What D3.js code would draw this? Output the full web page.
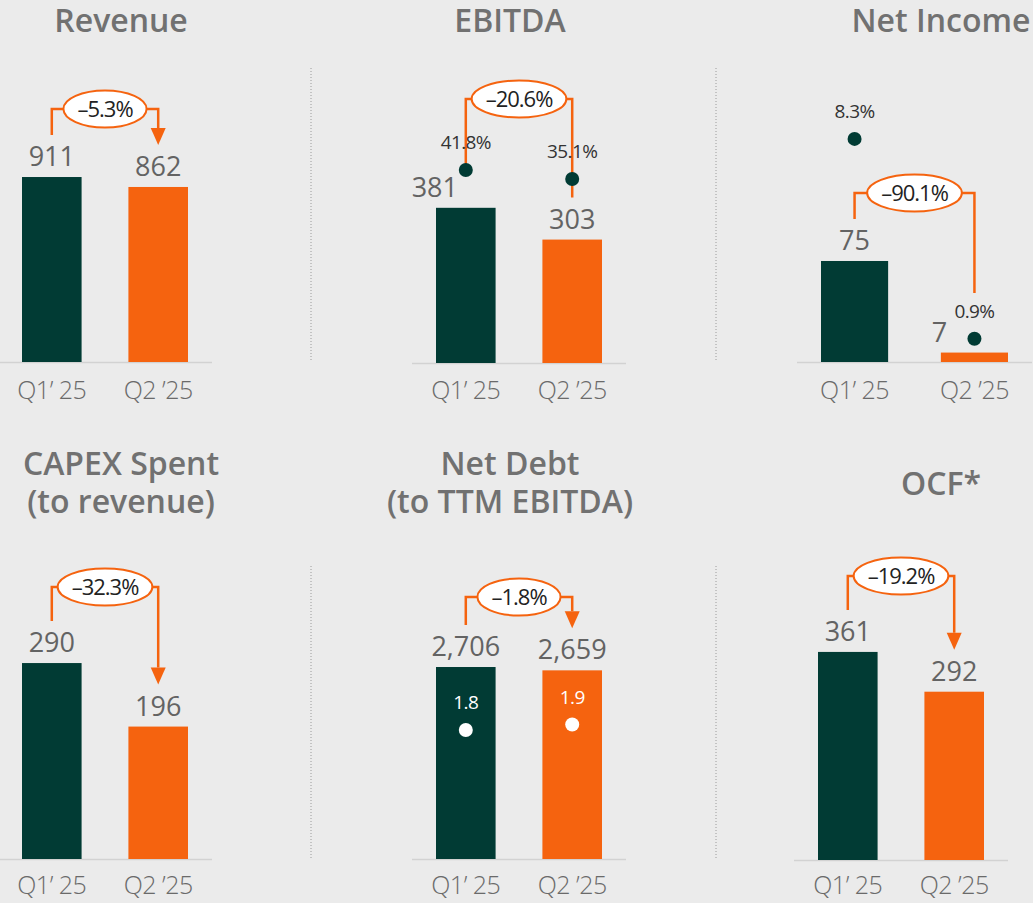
<!DOCTYPE html>
<html>
<head>
<meta charset="utf-8">
<script src="https://cdn.jsdelivr.net/npm/d3@7"></script>
<style>
  body { margin: 0; background: #ebebeb; }
  svg { display: block; font-family: "Open Sans", sans-serif; }
</style>
</head>
<body>
<div id="chart"></div>
<script>
/*global d3*/
// data
var periods = ["Q1’ 25", "Q2 ’25"];
var titles = [
  ["Revenue"],
  ["EBITDA"],
  ["Net Income"],
  ["CAPEX Spent", "(to revenue)"],
  ["Net Debt", "(to TTM EBITDA)"],
  ["OCF*"],
];
var values = [
  [911, 862],
  [381, 303],
  [75, 7],
  [290, 196],
  [2706, 2659],
  [361, 292],
];
var changes = ["–5.3%", "–20.6%", "–90.1%", "–32.3%", "–1.8%", "–19.2%"];
var ratios = [null, [41.8, 35.1], [8.3, 0.9], null, [1.8, 1.9], null];
var ratioSuffix = [null, "%", "%", null, "", null];

var green = "#013b34",
  orange = "#f5630f";

// layout per panel (positions only)
var panels = [
  { x: [22, 188], base: 362, top: 985, titleX: 121, titleY: [32], axisY: 399, bracketY: 109, arrow: true, labelDx: [0, 0] },
  { x: [436, 602], base: 363, top: 491, titleX: 510, titleY: [32], axisY: 399, bracketY: 99, arrow: false, labelDx: [-31, 0],
    dot: { domain: [0, 50], range: [226, 159], fill: green, text: "#333" } },
  { x: [821, 1008], base: 362, top: 148.5, titleX: 941, titleY: [32], axisY: 399, bracketY: 193, arrow: false, labelDx: [0, -35], rightEnd: 293,
    dot: { domain: [0, 10], range: [363, 93], fill: green, text: "#333" } },
  { x: [22, 188], base: 859, top: 296, titleX: 121, titleY: [475, 513], axisY: 894, bracketY: 587, arrow: true, labelDx: [0, 0] },
  { x: [436, 602], base: 859, top: 2819, titleX: 510, titleY: [475, 513], axisY: 894, bracketY: 597, arrow: true, labelDx: [0, 0],
    dot: { domain: [0, 2], range: [829, 719], fill: "#fff", text: "#fff" } },
  { x: [818, 984], base: 860, top: 347, titleX: 941, titleY: [495], axisY: 894, bracketY: 576, arrow: true, labelDx: [0, 0] },
];

var width = 1033,
  height = 903;

var svg = d3
  .select("#chart")
  .append("svg")
  .attr("width", width)
  .attr("height", height);

svg.append("rect").attr("width", width).attr("height", height).attr("fill", "#ebebeb");

// dotted separators
[311, 716].forEach((sx) => {
  [[68, 362], [566, 859]].forEach(([y0, y1]) => {
    svg
      .append("line")
      .attr("x1", sx)
      .attr("x2", sx)
      .attr("y1", y0)
      .attr("y2", y1)
      .attr("stroke", "#9a9a9a")
      .attr("stroke-width", 1)
      .attr("stroke-dasharray", "1,2");
  });
});

var fmt = d3.format(",");

panels.forEach((p, i) => {
  var g = svg.append("g");
  var x = d3.scaleBand().domain(periods).range(p.x).paddingInner(0.44).paddingOuter(0);
  var y = d3.scaleLinear().domain([0, p.top]).range([p.base, p.base - 200]);
  var cx = (d) => x(d) + x.bandwidth() / 2;

  // title
  var t = g
    .append("text")
    .attr("x", p.titleX)
    .attr("text-anchor", "middle")
    .attr("fill", "#717171")
    .style("font-size", "32px")
    .style("font-weight", 600);
  titles[i].forEach((line, k) => {
    t.append("tspan").attr("x", p.titleX).attr("y", p.titleY[k]).text(line);
  });

  // baseline
  g.append("line")
    .attr("x1", p.x[0] - 24)
    .attr("x2", p.x[1] + 24)
    .attr("y1", p.base + 0.5)
    .attr("y2", p.base + 0.5)
    .attr("stroke", "#d2d2d2")
    .attr("stroke-width", 1.5);

  // bars
  g.selectAll("rect.bar")
    .data(values[i])
    .enter()
    .append("rect")
    .attr("class", "bar")
    .attr("x", (d, j) => x(periods[j]))
    .attr("width", x.bandwidth())
    .attr("y", (d) => y(d))
    .attr("height", (d) => p.base - y(d))
    .attr("fill", (d, j) => (j === 0 ? green : orange));

  // value labels
  g.selectAll("text.val")
    .data(values[i])
    .enter()
    .append("text")
    .attr("class", "val")
    .attr("x", (d, j) => cx(periods[j]) + p.labelDx[j])
    .attr("y", (d) => y(d) - 11)
    .attr("text-anchor", "middle")
    .attr("fill", "#636363")
    .style("font-size", "27px")
    .style("font-weight", 500)
    .text((d) => fmt(d));

  // axis labels
  g.selectAll("text.axis")
    .data(periods)
    .enter()
    .append("text")
    .attr("class", "axis")
    .attr("x", (d) => cx(d))
    .attr("y", p.axisY)
    .attr("text-anchor", "middle")
    .attr("fill", "#6a6a6a")
    .style("font-size", "25px")
    .style("font-weight", 300)
    .style("letter-spacing", "-0.5px")
    .text((d) => d);

  // change bracket
  var x1 = cx(periods[0]),
    x2 = cx(periods[1]);
  var leftEnd = y(values[i][0]) - 42;
  var rightEnd = p.rightEnd || y(values[i][1]) - 42;
  var head = p.arrow ? 17 : 0;
  var b = g.append("g");
  b.append("path")
    .attr("d", d3.line()([
      [x1, leftEnd],
      [x1, p.bracketY],
      [x2, p.bracketY],
      [x2, rightEnd - head],
    ]))
    .attr("fill", "none")
    .attr("stroke", orange)
    .attr("stroke-width", 2.5);
  if (p.arrow) {
    b.append("path")
      .attr("d", d3.line()([
        [x2 - 7.5, rightEnd - head],
        [x2 + 7.5, rightEnd - head],
        [x2, rightEnd],
      ]) + "Z")
      .attr("fill", orange);
  }
  var mid = (x1 + x2) / 2;
  var lbl = b
    .append("text")
    .attr("x", mid)
    .attr("y", p.bracketY)
    .attr("dy", "0.36em")
    .attr("text-anchor", "middle")
    .attr("fill", "#222")
    .style("font-size", "22px")
    .style("letter-spacing", "-1px")
    .text(changes[i]);
  var w = lbl.node().getComputedTextLength();
  b.insert("ellipse", "text")
    .attr("cx", mid)
    .attr("cy", p.bracketY)
    .attr("rx", w / 2 + 14)
    .attr("ry", 18.5)
    .attr("fill", "#fff")
    .attr("stroke", orange)
    .attr("stroke-width", 2);

  // ratio dots
  if (p.dot && ratios[i]) {
    var yr = d3.scaleLinear().domain(p.dot.domain).range(p.dot.range);
    g.selectAll("circle.dot")
      .data(ratios[i])
      .enter()
      .append("circle")
      .attr("class", "dot")
      .attr("cx", (d, j) => cx(periods[j]))
      .attr("cy", (d) => yr(d))
      .attr("r", 7)
      .attr("fill", p.dot.fill);
    g.selectAll("text.dotlbl")
      .data(ratios[i])
      .enter()
      .append("text")
      .attr("class", "dotlbl")
      .attr("x", (d, j) => cx(periods[j]))
      .attr("y", (d) => yr(d) - 21)
      .attr("text-anchor", "middle")
      .attr("fill", p.dot.text)
      .style("font-size", "19px")
      .style("letter-spacing", "-0.6px")
      .text((d) => d + ratioSuffix[i]);
  }
});
</script>
</body>
</html>
